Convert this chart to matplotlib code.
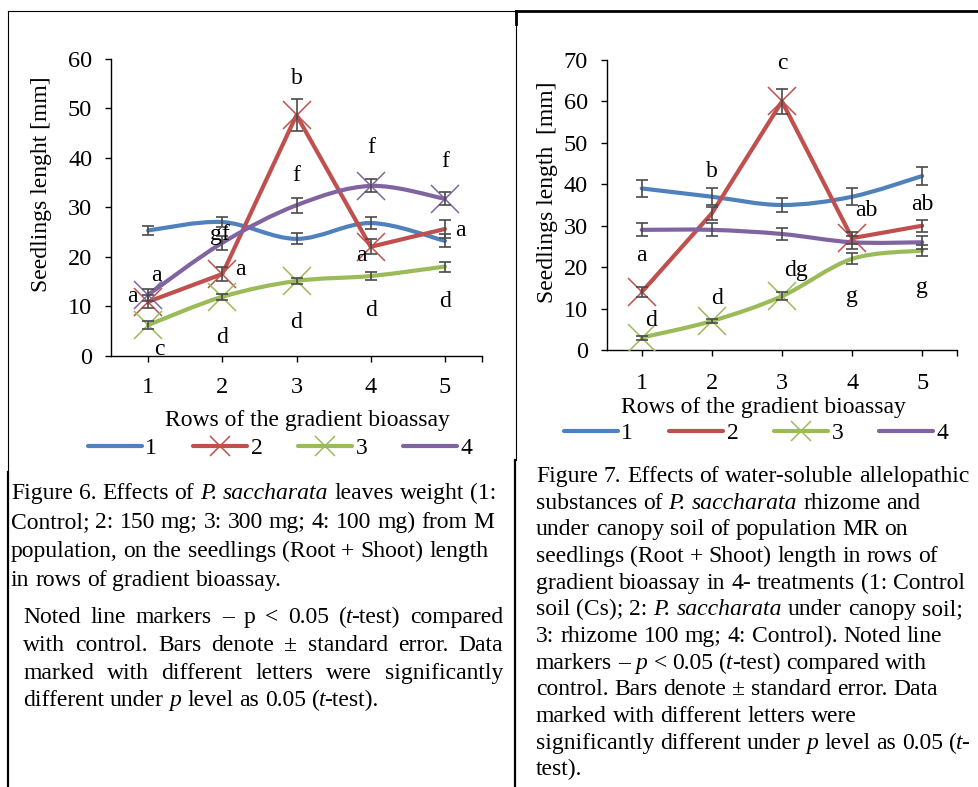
import matplotlib
matplotlib.use('Agg')
import matplotlib.pyplot as plt
from matplotlib.lines import Line2D
from matplotlib.path import Path
from matplotlib.patches import PathPatch

plt.rcParams['font.family'] = 'Liberation Serif'

W, H = 979, 787

# rows of the gradient bioassay
rows = [1, 2, 3, 4, 5]
series_labels = ['1', '2', '3', '4']
colors = ['#4F81BD', '#C0504D', '#9BBB59', '#8064A2']

# Figure 6: seedlings length [mm]
f6_s1 = [25.3, 27.0, 23.6, 26.8, 23.2]
f6_s2 = [10.9, 16.5, 48.6, 22.0, 25.6]
f6_s3 = [6.2, 11.9, 15.1, 16.1, 18.0]
f6_s4 = [12.3, 22.8, 30.4, 34.3, 31.7]
# standard errors
f6_e1 = [0.9, 1.1, 1.1, 1.3, 1.3]
f6_e2 = [1.3, 1.5, 3.2, 1.5, 1.8]
f6_e3 = [0.8, 0.6, 0.6, 0.9, 1.0]
f6_e4 = [1.2, 1.4, 1.5, 1.3, 1.3]
# which points carry a marker (p < 0.05)
f6_marks = [[], [0, 1, 2, 3], [0, 1, 2], [0, 3, 4]]
f6_letters = [('b', 3, 56.1), ('f', 3, 36.5), ('f', 4, 42.0), ('f', 5, 39.2),
              ('gf', 1.97, 24.4), ('a', 1.11, 16.3), ('a', 0.79, 11.9),
              ('c', 1.15, 1.3), ('a', 2.25, 17.5), ('d', 2, 3.6), ('d', 3, 6.7),
              ('a', 3.88, 20.3), ('d', 4, 9.2), ('a', 5.21, 25.3), ('d', 5, 11.0)]

# Figure 7: seedlings length [mm]
f7_s1 = [39, 37, 35, 37, 42]
f7_s2 = [14, 33, 60, 27, 30]
f7_s3 = [3, 7, 13, 22, 24]
f7_s4 = [29, 29, 28, 26, 26]
f7_e1 = [2.0, 2.0, 1.8, 2.0, 2.2]
f7_e2 = [1.2, 1.5, 3.0, 1.5, 1.5]
f7_e3 = [0.5, 0.6, 1.0, 1.3, 1.4]
f7_e4 = [1.6, 1.6, 1.5, 1.5, 1.5]
f7_marks = [[], [0, 2, 3], [0, 1, 2], []]
f7_letters = [('c', 3, 69.2), ('b', 2, 43.0), ('a', 1, 22.9), ('d', 1.13, 7.2),
              ('d', 2.07, 12.5), ('dg', 3.2, 19.3), ('ab', 4.2, 33.6), ('g', 4, 12.9),
              ('ab', 5, 35.2), ('g', 5, 15.1)]

# captions (*...* = italic)
cap6_a = ["Figure 6. Effects of *P. saccharata* leaves weight (1:",
          "Control; 2: 150 mg; 3: 300 mg; 4: 100 mg) from M",
          "population, on the seedlings (Root + Shoot) length",
          "in rows of gradient bioassay."]
cap6_b = ["Noted line markers \u2013 p < 0.05 (*t*-test) compared",
          "with control. Bars denote \u00b1 standard error. Data",
          "marked with different letters were significantly",
          "different under *p* level as 0.05 (*t*-test)."]
cap7 = ["Figure 7. Effects of water-soluble allelopathic",
        "substances of *P. saccharata* rhizome and",
        "under canopy soil of population MR on",
        "seedlings (Root + Shoot) length in rows of",
        "gradient bioassay in 4- treatments (1: Control",
        "soil (Cs); 2: *P. saccharata* under canopy soil;",
        "3: rhizome 100 mg; 4: Control). Noted line",
        "markers \u2013 *p* < 0.05 (*t*-test) compared with",
        "control. Bars denote \u00b1 standard error. Data",
        "marked with different letters were",
        "significantly different under *p* level as 0.05 (*t*-",
        "test)."]

FS = 17


def smooth_path(xs, ys):
    # excel-like smoothed line through the points
    n = len(xs)
    verts = [(xs[0], ys[0])]
    codes = [Path.MOVETO]
    for i in range(n - 1):
        x0, y0 = xs[max(i - 1, 0)], ys[max(i - 1, 0)]
        x1, y1 = xs[i], ys[i]
        x2, y2 = xs[i + 1], ys[i + 1]
        x3, y3 = xs[min(i + 2, n - 1)], ys[min(i + 2, n - 1)]
        verts += [(x1 + (x2 - x0) / 6, y1 + (y2 - y0) / 6),
                  (x2 - (x3 - x1) / 6, y2 - (y3 - y1) / 6),
                  (x2, y2)]
        codes += [Path.CURVE4] * 3
    return Path(verts, codes)


def draw_chart(ax, ys_list, es_list, marks, smooth, ymax, letters, ylabel,
               legend_marks, xlab_pos, ylab_pos, leg_pos, xpad):
    for ys, es, mk, sm, c in zip(ys_list, es_list, marks, smooth, colors):
        if sm:
            ax.add_patch(PathPatch(smooth_path(rows, ys), fill=False, edgecolor=c, lw=3,
                                   capstyle='round', joinstyle='round', zorder=2))
        else:
            ax.plot(rows, ys, color=c, lw=3, solid_capstyle='round',
                    solid_joinstyle='round', zorder=2)
        if mk:
            ax.plot([rows[i] for i in mk], [ys[i] for i in mk], ls='none', marker='x',
                    ms=20, mew=1.1, color=c, zorder=3)
        ax.errorbar(rows, ys, yerr=es, fmt='none', ecolor='#4a4a4a', elinewidth=1.2,
                    capsize=4, capthick=1.2, zorder=4)

    for txt, x, y in letters:
        ax.text(x, y, txt, fontsize=FS, ha='center', va='center', zorder=5, clip_on=False)

    ax.set_xlim(0.5, 5.5)
    ax.set_ylim(0, ymax)
    ax.set_yticks(range(0, ymax + 1, 10))
    ax.set_xticks(rows + [5.5], [str(r) for r in rows] + [''])
    for s in ['top', 'right']:
        ax.spines[s].set_visible(False)
    for s in ['left', 'bottom']:
        ax.spines[s].set_linewidth(1.0)
    ax.tick_params(axis='both', direction='out', length=4.5, width=1.0, labelsize=17.5)
    ax.tick_params(axis='y', pad=9)
    ax.tick_params(axis='x', pad=xpad)

    fig.text(xlab_pos[0] / W, 1 - xlab_pos[1] / H, 'Rows of the gradient bioassay',
             fontsize=FS, ha='center', va='center')
    fig.text(ylab_pos[0] / W, 1 - ylab_pos[1] / H, ylabel, fontsize=FS,
             ha='center', va='center', rotation=90)

    handles = [Line2D([], [], color=c, lw=3, solid_capstyle='round',
                      marker='x' if m else None, ms=14, mew=1.1)
               for c, m in zip(colors, legend_marks)]
    ax.legend(handles, series_labels, loc='center', ncol=4, frameon=False, fontsize=FS,
              bbox_to_anchor=(leg_pos[0] / W, 1 - leg_pos[1] / H),
              bbox_transform=fig.transFigure, handlelength=2.3, handletextpad=0.15,
              columnspacing=1.5, borderpad=0, borderaxespad=0)


fig = plt.figure(figsize=(W / 100, H / 100), dpi=100)
renderer = fig.canvas.get_renderer()

ax6 = fig.add_axes([111 / W, 1 - 355.7 / H, 371 / W, 297 / H])
draw_chart(ax6, [f6_s1, f6_s2, f6_s3, f6_s4], [f6_e1, f6_e2, f6_e3, f6_e4], f6_marks,
           [True, False, True, True], 60, f6_letters, 'Seedlings lenght [mm]',
           [False, True, True, False], (307, 421), (42, 184), (280, 448), 11)

ax7 = fig.add_axes([606.7 / W, 1 - 350 / H, 350.6 / W, 290 / H])
draw_chart(ax7, [f7_s1, f7_s2, f7_s3, f7_s4], [f7_e1, f7_e2, f7_e3, f7_e4], f7_marks,
           [True, False, True, True], 70, f7_letters, 'Seedlings length  [mm]',
           [False, False, True, False], (763, 408), (547, 192), (756, 433), 12)


# caption text, word by word so italics and justification work
def text_w(s, it):
    t = fig.text(0, 0, s, fontsize=FS, style='italic' if it else 'normal')
    w = t.get_window_extent(renderer).width
    t.remove()
    return w


space_w = text_w('a a', False) - text_w('aa', False)
SEG_GAP = -1.0


def draw_line(line, x0, yb, width=None):
    italic = False
    words = []
    for w in line.split(' '):
        segs = []
        for i, p in enumerate(w.split('*')):
            if i > 0:
                italic = not italic
            if p:
                segs.append((p, italic, text_w(p, italic)))
        words.append(segs)
    wlen = [sum(s[2] for s in segs) + SEG_GAP * (len(segs) - 1) for segs in words]
    gap = space_w
    if width is not None and len(words) > 1:
        gap = (width - sum(wlen)) / (len(words) - 1)
    x = x0
    for segs, wl in zip(words, wlen):
        xs = x
        for p, it, pw in segs:
            fig.text(xs / W, 1 - yb / H, p, fontsize=FS, style='italic' if it else 'normal',
                     ha='left', va='baseline')
            xs += pw + SEG_GAP
        x += wl + gap


for i, line in enumerate(cap6_a):
    draw_line(line, 11, 499 + 29.0 * i)
for i, line in enumerate(cap6_b):
    draw_line(line, 23, 623 + 27.8 * i, width=480 if i < 3 else None)
for i, line in enumerate(cap7):
    draw_line(line, 536, 482 + 26.67 * i)


# table borders
def hline(x0, x1, y, lw):
    fig.add_artist(Line2D([x0 / W, x1 / W], [1 - y / H, 1 - y / H], color='black', lw=lw))


def vline(x, y0, y1, lw):
    fig.add_artist(Line2D([x / W, x / W], [1 - y0 / H, 1 - y1 / H], color='black', lw=lw))


hline(8, 516, 11, 0.8)
hline(516, 979, 11, 2.0)
vline(8.5, 11, 472, 0.8)
vline(8.5, 472, 787, 1.6)
vline(516, 11, 460, 0.8)
vline(516, 11, 24, 2.0)
vline(514.5, 460, 787, 1.6)

fig.savefig('out.png', dpi=100)
